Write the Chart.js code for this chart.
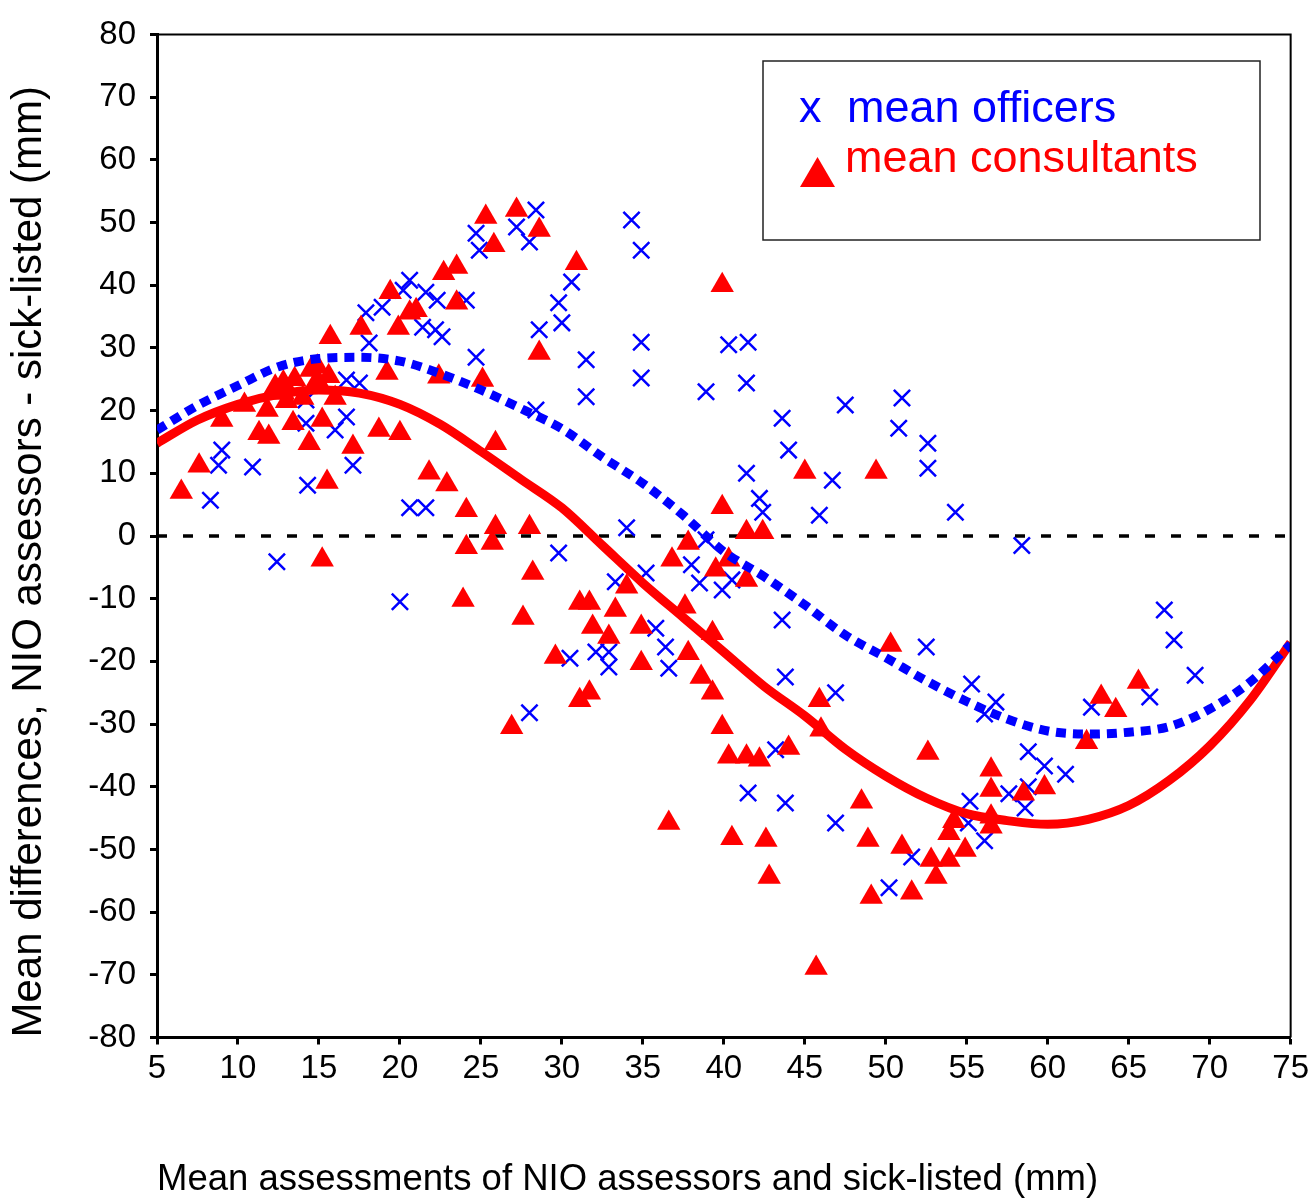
<!DOCTYPE html>
<html><head><meta charset="utf-8">
<script src="https://cdn.jsdelivr.net/npm/chart.js@4.4.0/dist/chart.umd.min.js"></script>
<style>html,body{margin:0;padding:0;background:#fff;}#wrap{width:1314px;height:1199px;}</style>
</head><body><div id="wrap"><canvas id="c" width="1314" height="1199"></canvas></div>
<script>
// ---- data ----
const xTickValues = [5,10,15,20,25,30,35,40,45,50,55,60,65,70,75];
const yTickValues = [-80,-70,-60,-50,-40,-30,-20,-10,0,10,20,30,40,50,60,70,80];

const officersX = [9.0,8.8,8.3,10.9,14.3,16.7,14.2,16.0,17.1,20.6,21.6,12.4,20.0,16.7,17.5,14.2,20.6,20.2,21.6,22.3,17.9,18.9,21.4,22.2,18.1,28.4,27.2,28.0,24.7,24.9,24.1,22.6,24.7,30.6,29.8,30.0,28.6,34.3,34.9,34.9,31.5,34.9,31.5,28.4,29.8,34.0,33.3,35.2,35.8,36.4,36.6,30.5,32.1,32.9,32.9,28.0,38.0,40.3,41.5,38.9,41.4,43.6,44.0,47.5,51.0,50.8,52.6,52.6,41.4,46.7,42.2,42.4,45.9,54.3,58.4,67.2,67.8,52.5,69.1,38.5,39.9,40.5,43.6,43.8,46.9,43.2,41.5,43.8,46.9,55.3,56.8,56.1,58.8,59.8,61.1,57.6,55.2,58.6,55.1,56.1,62.7,66.3,51.6,50.2,38.9,58.8];
const officersY = [13.7,11.3,5.7,11.0,8.1,19.0,18.0,16.9,11.3,4.5,4.5,-4.1,-10.5,24.9,24.4,21.7,40.8,39.2,38.9,37.6,35.6,36.5,33.3,32.9,30.8,52.0,49.3,46.9,48.3,45.6,37.6,31.8,28.5,40.5,37.2,34.0,32.9,50.4,45.6,30.9,28.1,25.2,22.2,20.1,-2.7,1.3,-7.3,-5.9,-14.7,-17.7,-21.1,-19.5,-18.5,-18.5,-20.9,-28.2,-4.6,30.5,30.9,23.0,24.4,18.8,13.7,20.9,22.0,17.2,14.8,10.8,10.0,8.9,6.0,3.8,3.3,3.8,-1.5,-11.8,-16.6,-17.7,-22.2,-7.5,-8.6,-7.0,-13.4,-22.5,-25.0,-34.1,-41.0,-42.6,-45.8,-23.6,-26.5,-28.4,-34.4,-36.7,-38.0,-41.1,-42.3,-43.4,-45.8,-48.6,-27.3,-25.7,-51.2,-56.1,-0.6,-40.0];

const consultantsX = [6.5,7.6,9.0,10.4,11.3,11.9,11.8,15.7,17.6,19.4,22.7,21.0,19.9,14.9,19.2,22.4,12.8,13.4,14.4,15.2,17.1,18.7,20.0,21.8,12.3,14.9,14.0,15.5,15.2,22.9,25.3,27.2,28.6,25.8,23.5,23.5,20.6,30.9,28.6,25.1,25.9,24.1,25.9,25.7,24.1,28.0,28.2,23.9,27.6,31.1,31.7,31.9,33.3,32.9,34.0,34.9,34.9,29.6,31.1,31.7,26.9,36.8,37.8,37.6,37.8,39.9,39.9,45.0,49.4,41.4,42.4,39.5,40.3,41.4,39.3,38.6,39.3,39.9,40.3,41.4,42.2,44.0,45.9,46.0,50.3,52.6,48.5,36.6,42.6,48.9,51.0,42.8,49.1,51.6,45.7,52.8,53.9,53.1,53.9,54.9,56.5,56.5,56.5,56.5,58.5,59.8,65.6,63.3,64.2,62.4,40.5,54.2,13.5,14.5,15.6,13.0,16.0,12.8];
const consultantsY = [7.0,11.2,18.5,20.9,16.4,15.8,20.1,31.7,33.2,38.9,41.9,36.0,33.2,27.0,26.0,25.4,22.8,18.0,14.8,18.5,14.2,16.9,16.4,10.1,23.8,24.9,22.0,8.6,-3.8,8.2,50.9,52.0,48.8,46.4,42.9,37.2,35.6,43.5,29.2,24.9,14.8,4.1,1.4,-1.1,-1.8,1.4,-5.9,-10.2,-13.1,-10.7,-10.7,-14.5,-11.8,-16.1,-8.1,-14.5,-20.3,-19.3,-26.2,-25.0,-30.5,-3.8,-1.1,-11.3,-18.7,40.0,4.6,10.2,10.2,0.6,0.6,-5.4,-3.8,-7.0,-15.5,-22.5,-25.0,-30.5,-35.2,-35.2,-35.7,-33.8,-26.2,-30.9,-17.4,-34.6,-42.4,-45.8,-48.5,-48.5,-49.6,-54.4,-57.6,-56.9,-68.9,-51.7,-51.7,-54.4,-47.4,-50.1,-37.3,-40.5,-44.8,-46.4,-41.1,-40.1,-23.3,-25.7,-27.8,-32.9,-48.2,-45.5,25.0,26.5,25.5,21.5,22.0,24.5];

const fitX = [5,7.5,10,12.5,15,17.5,20,22.5,25,27.5,30,32.5,35,37.5,40,42.5,45,47.5,50,52.5,55,57.5,60,62.5,65,67.5,70,72.5,75];
const officersFitY = [16.9,20.8,24.0,27.0,28.3,28.5,27.9,25.9,23.3,20.3,17.1,12.6,8.4,3.3,-2.5,-6.5,-11.0,-15.8,-19.4,-23.1,-26.4,-29.2,-31.1,-31.6,-31.3,-30.4,-27.6,-23.3,-17.3];
const consultantsFitY = [14.8,18.5,21.0,22.6,23.3,22.8,21.0,17.8,13.5,9.0,4.5,-1.5,-7.5,-13.0,-18.5,-24.0,-28.7,-34.0,-38.3,-41.8,-44.3,-45.4,-46.0,-45.2,-43.0,-39.0,-33.5,-26.2,-17.0];

const zeroLineX = [5,75];
const zeroLineY = [0,0];

const seriesNames = ['mean officers','mean consultants'];
const xTitle = 'Mean assessments of NIO assessors and sick-listed (mm)';
const yTitle = 'Mean differences, NIO assessors - sick-listed (mm)';

// ---- helpers ----
const zip = (xs, ys) => xs.map((x, i) => ({x: x, y: ys[i]}));
const BASE = "'Liberation Sans', Arial, sans-serif";
const BLUE = '#0000FF', RED = '#FF0000';

const framePlugin = {
  id: 'frame',
  afterDatasetsDraw(chart) {
    const {ctx, chartArea: a} = chart;
    ctx.save();
    ctx.strokeStyle = '#000';
    ctx.lineWidth = 2;
    ctx.beginPath();
    ctx.moveTo(a.left, a.top);
    ctx.lineTo(a.right, a.top);
    ctx.lineTo(a.right, a.bottom);
    ctx.stroke();
    ctx.restore();
  }
};

const legendPlugin = {
  id: 'boxLegend',
  afterDraw(chart) {
    const ctx = chart.ctx;
    ctx.save();
    ctx.fillStyle = '#fff';
    ctx.fillRect(763, 61, 497, 179);
    ctx.strokeStyle = '#222';
    ctx.lineWidth = 1.5;
    ctx.strokeRect(763, 61, 497, 179);
    ctx.font = "45px " + BASE;
    ctx.textBaseline = 'alphabetic';
    ctx.textAlign = 'left';
    ctx.fillStyle = BLUE;
    ctx.fillText('x', 799, 122);
    ctx.fillText(seriesNames[0], 847, 122);
    ctx.fillStyle = RED;
    ctx.fillText(seriesNames[1], 845, 172);
    ctx.beginPath();
    ctx.moveTo(800, 187);
    ctx.lineTo(835, 187);
    ctx.lineTo(817.5, 157);
    ctx.closePath();
    ctx.fill();
    ctx.restore();
  }
};

new Chart(document.getElementById('c'), {
  type: 'scatter',
  data: {
    datasets: [
      {
        type: 'line', label: 'officers fit',
        data: zip(fitX, officersFitY),
        borderColor: BLUE, borderWidth: 9, borderDash: [10, 7],
        pointRadius: 0, tension: 0.4, cubicInterpolationMode: 'monotone', fill: false
      },
      {
        type: 'line', label: 'consultants fit',
        data: zip(fitX, consultantsFitY),
        borderColor: RED, borderWidth: 9,
        pointRadius: 0, tension: 0.4, cubicInterpolationMode: 'monotone', fill: false
      },
      {
        label: seriesNames[1],
        data: zip(consultantsX, consultantsY),
        pointStyle: 'triangle', pointRadius: 13.5,
        backgroundColor: RED, borderColor: RED, borderWidth: 0
      },
      {
        label: seriesNames[0],
        data: zip(officersX, officersY),
        pointStyle: 'crossRot', pointRadius: 11.5,
        backgroundColor: BLUE, borderColor: BLUE, borderWidth: 2.5
      },
      {
        type: 'line', label: 'zero',
        data: zip(zeroLineX, zeroLineY),
        borderColor: '#000', borderWidth: 3.5, borderDash: [10, 16],
        pointRadius: 0, fill: false
      }
    ]
  },
  options: {
    responsive: false,
    animation: false,
    devicePixelRatio: 1,
    layout: {padding: {top: 34.5, right: 21, bottom: 0, left: 0}},
    plugins: {legend: {display: false}, tooltip: {enabled: false}},
    scales: {
      x: {
        type: 'linear', position: 'bottom', min: 5, max: 75,
        afterBuildTicks: s => { s.ticks = xTickValues.map(v => ({value: v})); },
        afterFit: s => { s.height = 161.5; },
        ticks: {
          color: '#000', padding: 5, maxRotation: 0, autoSkip: false,
          font: {family: BASE, size: 33}
        },
        grid: {drawOnChartArea: false, drawTicks: true, tickLength: 7, tickColor: '#000', tickWidth: 3},
        border: {display: true, color: '#000', width: 3},
        title: {
          display: true, text: xTitle, color: '#000', align: 'start',
          font: {family: BASE, size: 36.5, lineHeight: 1},
          padding: {top: 0, bottom: 1}
        }
      },
      y: {
        type: 'linear', position: 'left', min: -80, max: 80,
        afterBuildTicks: s => { s.ticks = yTickValues.map(v => ({value: v})); },
        afterFit: s => { s.width = 157; },
        ticks: {color: '#000', padding: 14, autoSkip: false, font: {family: BASE, size: 33}},
        grid: {drawOnChartArea: false, drawTicks: true, tickLength: 7, tickColor: '#000', tickWidth: 3},
        border: {display: true, color: '#000', width: 3},
        title: {
          display: true, text: yTitle, color: '#000', align: 'start',
          font: {family: BASE, size: 42, lineHeight: 1},
          padding: {top: 8, bottom: 0}
        }
      }
    }
  },
  plugins: [framePlugin, legendPlugin]
});
</script></body></html>
